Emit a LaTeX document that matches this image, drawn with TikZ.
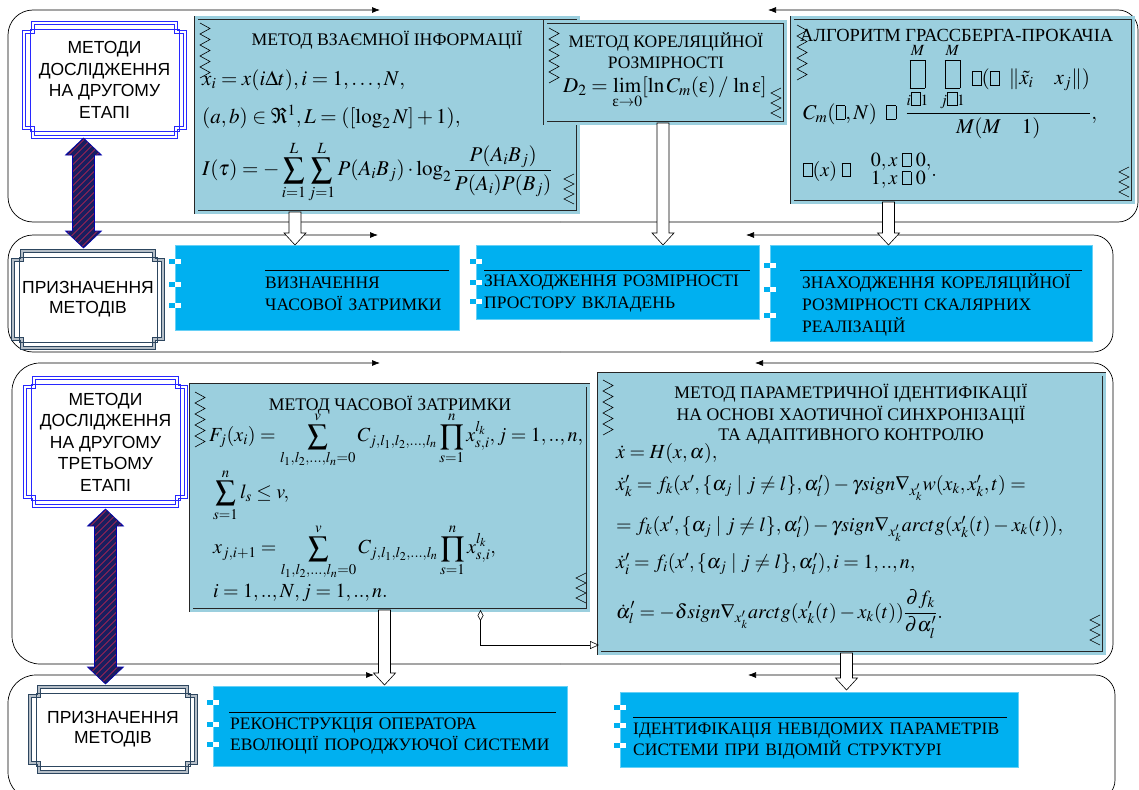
\documentclass[tikz,border=0pt]{standalone}
\usepackage{mathptmx}
\usepackage{amsmath}
\usepackage[no-math]{fontspec}
\setmainfont{Liberation Serif}
\newfontfamily\arialf{Liberation Sans}
\usetikzlibrary{arrows.meta,calc}
\definecolor{fbblue}{RGB}{155,207,222}
\definecolor{cyanb}{RGB}{0,176,240}
\definecolor{frameblue}{RGB}{40,40,255}
\definecolor{slate}{RGB}{45,70,95}
\definecolor{navyA}{RGB}{25,30,95}
\definecolor{hatchred}{RGB}{215,40,80}
\newcommand{\ueps}{\text{ε}}
\newcommand{\tofu}{\mbox{\fboxsep=0pt\fboxrule=0.5pt\fbox{\rule{0pt}{0.62em}\hspace{0.42em}}}}
\newcommand{\Tofu}{\mbox{\fboxsep=0pt\fboxrule=0.5pt\fbox{\rule[-0.15em]{0pt}{1.3em}\hspace{0.7em}}}}
\newcommand{\notchframe}[6]{%
 \draw[#6] ({#1+#5},#2) -- ({#3-#5},#2) -- ({#3-#5},{#2+#5}) -- (#3,{#2+#5}) -- (#3,{#4-#5}) -- ({#3-#5},{#4-#5}) -- ({#3-#5},#4) -- ({#1+#5},#4) -- ({#1+#5},{#4-#5}) -- (#1,{#4-#5}) -- (#1,{#2+#5}) -- ({#1+#5},{#2+#5}) -- cycle;}
\newcommand{\zzl}[3]{\draw[zig] (#1,#2) \foreach \k in {1,...,#3}{ -- ({#1+10},{#2+11*\k-5.5}) -- (#1,{#2+11*\k}) };}
\newcommand{\zzr}[3]{\draw[zig] (#1,#2) \foreach \k in {1,...,#3}{ -- ({#1-10},{#2+10*\k-5}) -- (#1,{#2+10*\k}) };}
\newcommand{\chk}[2]{\fill[cyanb] ({#1-6},#2) rectangle (#1,{#2+5}); \fill[white] (#1,#2) rectangle ({#1+6},{#2+5}); \fill[white] ({#1-6},{#2+5}) rectangle (#1,{#2+10});}
\newcommand{\hollowdown}[2]{\draw[hollow] let \p1=#1, \p2=#2 in (\x1-6pt,\y1) -- (\x1+6pt,\y1) -- (\x1+6pt,\y2+12pt) -- (\x1+11pt,\y2+12pt) -- (\x1,\y2) -- (\x1-11pt,\y2+12pt) -- (\x1-6pt,\y2+12pt) -- cycle;}
\newcommand{\dblpath}{(tmpT) -- ([shift={(18,17)}]tmpT) -- ([shift={(11,17)}]tmpT) -- ([shift={(11,-17)}]tmpB) -- ([shift={(18,-17)}]tmpB) -- (tmpB) -- ([shift={(-18,-17)}]tmpB) -- ([shift={(-11,-17)}]tmpB) -- ([shift={(-11,17)}]tmpT) -- ([shift={(-18,17)}]tmpT) -- cycle}
\newcommand{\dblarrow}[2]{%
 \path let \p1=#1, \p2=#2 in coordinate (tmpT) at (\x1,\y1) coordinate (tmpB) at (\x1,\y2);
 \fill[navyA] \dblpath;
 \begin{scope}
  \clip \dblpath;
  \foreach \d in {-40,-33,...,240} {\draw[hatchred, line width=0.6pt] ([shift={(\d+20,-20)}]tmpT) -- ([shift={(\d-200,200)}]tmpT);}
 \end{scope}
 \draw[draw=blue!70!black, line width=0.6pt] \dblpath;}
\tikzset{
 band/.style={line width=0.7pt, -{Latex[length=8pt,width=6pt]}},
 fbx/.style={draw=black!85, double=fbblue, double distance=3pt, line width=0.7pt, fill=fbblue, inner sep=0pt, outer sep=0pt, anchor=north west},
 cbx/.style={fill=cyanb, draw=cyanb!60!white, line width=0.5pt, inner sep=0pt, outer sep=0pt, anchor=north west},
 ttl/.style={font=\fontsize{17.7}{22}\selectfont, align=center, inner sep=0pt},
 ctext/.style={font=\fontsize{17.5}{22}\selectfont, align=left, anchor=west, inner sep=0pt},
 ltext/.style={font=\arialf\fontsize{17.5}{21.5}\selectfont, align=center, inner sep=0pt, outer sep=0pt, anchor=north west},
 fml/.style={anchor=west, inner sep=0pt, font=\fontsize{20}{24}\selectfont},
 zig/.style={line width=0.6pt},
 ovl/.style={line width=0.6pt},
 hollow/.style={draw=black, fill=white, line width=0.6pt},
 bluefr/.style={draw=frameblue, line width=0.8pt, double=white, double distance=1.8pt},
 slatefr/.style={draw=slate, line width=0.9pt, double=slate!35, double distance=2pt},
 conn/.style={line width=0.6pt, {Diamond[open,length=11pt,width=6pt]}-{Triangle[open,length=9pt,width=8pt]}}
}
\begin{document}
\begin{tikzpicture}[x=1pt,y=-1pt]
\useasboundingbox (0,0) rectangle (1139,789);
% bands
\draw[band, rounded corners=25pt] (560,222) -- (8,222) -- (8,10) -- (380,10);
\draw[band, rounded corners=20pt] (560,222) -- (1138,222) -- (1138,10) -- (768,10);
\draw[band, rounded corners=25pt] (560,352) -- (8,352) -- (8,235) -- (378,235);
\draw[band, rounded corners=20pt] (560,352) -- (1113,352) -- (1113,235) -- (746,235);
\draw[band, rounded corners=28pt] (560,664) -- (12,664) -- (12,363) -- (380,363);
\draw[band, rounded corners=20pt] (560,664) -- (1113,664) -- (1113,363) -- (755,363);
\draw[band, rounded corners=28pt] (560,800) -- (8,800) -- (8,675) -- (374,675);
\draw[band, rounded corners=20pt] (560,800) -- (1115,800) -- (1115,675) -- (748,675);
% formula boxes
\node[fbx, minimum width=382pt, minimum height=194pt] (fb1) at (196,18) {};
\node[fbx, minimum width=240pt, minimum height=101pt] (fb2) at (545,22) {};
\node[fbx, minimum width=341pt, minimum height=184pt] (fb3) at (792,18) {};
\node[fbx, minimum width=397pt, minimum height=225pt] (fb4) at (191,385) {};
\node[fbx, minimum width=505pt, minimum height=279pt] (fb5) at (599,374) {};
\zzl{200}{23}{5} \zzr{574}{174}{3}
\zzl{549}{28}{5} \zzr{781}{88}{3}
\zzl{797}{25}{5} \zzr{1129}{167}{3}
\zzl{195}{392}{5} \zzr{586}{573}{3}
\zzl{603}{380}{5} \zzr{1100}{615}{3}
% box 1
\node[ttl] (h1) at (387,40) {МЕТОД ВЗАЄМНОЇ ІНФОРМАЦІЇ};
\node[fml, font=\fontsize{21}{24}\selectfont] (f1a) at (202,80) {$x_i = x(i\Delta t), i = 1,\ldots,N,$};
\node[fml, font=\fontsize{21}{24}\selectfont] (f1b) at (202,117) {$(a,b)\in\Re^1, L = ([\log_2 N]+1),$};
\node[fml, font=\fontsize{21}{24}\selectfont] (f1c) at (202,172) {$\displaystyle I(\tau) = -\sum_{i=1}^{L}\sum_{j=1}^{L} P(A_iB_j)\cdot\log_2\frac{P(A_iB_j)}{P(A_i)P(B_j)}$};
% box 2
\node[ttl, font=\fontsize{17.5}{21}\selectfont] (h2a) at (666,42) {МЕТОД КОРЕЛЯЦІЙНОЇ};
\node[ttl, font=\fontsize{17.5}{21}\selectfont] (h2b) at (666,63) {РОЗМІРНОСТІ};
\node[fml, font=\fontsize{21}{24}\selectfont] (f2) at (563,93) {$\displaystyle D_2 = \lim_{\ueps\to0}[\ln C_m(\ueps)\,/\,\ln\ueps]$};
% box 3
\node[ttl, anchor=west, font=\fontsize{18.5}{22}\selectfont] (h3) at (800,35) {АЛГОРИТМ ГРАССБЕРГА-ПРОКАЧІА};
\node[fml, anchor=base west, font=\fontsize{21}{24}\selectfont] (f3a) at (803,119) {$\displaystyle C_m(\tofu,N)\;\;\tofu\;\;\frac{\mathop{\Tofu}\limits_{i\tofu 1}^{M}\;\;\mathop{\Tofu}\limits_{j\tofu 1}^{M}\;\tofu(\tofu\;\;\|\tilde{x_i}\quad x_j\|)}{M(M\quad 1)},$};
\node[fml, anchor=base west, font=\fontsize{20}{22}\selectfont] (f3b) at (803,176) {\renewcommand\arraystretch{0.75}$\tofu(x)\;\tofu\quad\begin{array}{@{}l@{}}0, x\;\tofu\; 0,\\ 1, x\;\tofu\; 0\end{array}.$};
% box 4
\node[ttl] (h4) at (390,405) {МЕТОД ЧАСОВОЇ ЗАТРИМКИ};
\node[fml] (f4a) at (209,440) {$\displaystyle F_j(x_i) = \sum_{l_1,l_2,\ldots,l_n=0}^{v} C_{j,l_1,l_2,\ldots,l_n}\prod_{s=1}^{n} x_{s,i}^{l_k}, j=1,..,n,$};
\node[fml] (f4b) at (213,495) {$\displaystyle\sum_{s=1}^{n} l_s \le v,$};
\node[fml] (f4c) at (213,552) {$\displaystyle x_{j,i+1} = \sum_{l_1,l_2,\ldots,l_n=0}^{v} C_{j,l_1,l_2,\ldots,l_n}\prod_{s=1}^{n} x_{s,i}^{l_k},$};
\node[fml] (f4d) at (213,593) {$i=1,..,N, j=1,..,n.$};
% box 5
\node[ttl] (h5a) at (851,393) {МЕТОД ПАРАМЕТРИЧНОЇ ІДЕНТИФІКАЦІЇ};
\node[ttl] (h5b) at (851,415) {НА ОСНОВІ ХАОТИЧНОЇ СИНХРОНІЗАЦІЇ};
\node[ttl] (h5c) at (851,437) {ТА АДАПТИВНОГО КОНТРОЛЮ};
\node[fml] (f5a) at (616,453) {$\dot x = H(x,\alpha),$};
\node[fml] (f5b) at (616,488) {$\dot x'_k = f_k(x',\{\alpha_j \mid j\ne l\},\alpha'_l) - \gamma sign\nabla_{x'_k} w(x_k,x'_k,t) =$};
\node[fml] (f5c) at (616,529) {$= f_k(x',\{\alpha_j \mid j\ne l\},\alpha'_l) - \gamma sign\nabla_{x'_k} arctg(x'_k(t)-x_k(t)),$};
\node[fml] (f5d) at (616,564) {$\dot x'_i = f_i(x',\{\alpha_j \mid j\ne l\},\alpha'_l), i=1,..,n,$};
\node[fml] (f5e) at (616,614) {$\displaystyle \dot\alpha'_l = -\delta sign\nabla_{x'_k} arctg(x'_k(t)-x_k(t))\frac{\partial f_k}{\partial\alpha'_l}.$};
% cyan boxes
\node[cbx, minimum width=284pt, minimum height=85pt] (c1) at (175,245) {};
\node[cbx, minimum width=283pt, minimum height=74pt] (c2) at (476,245) {};
\node[cbx, minimum width=322pt, minimum height=96pt] (c3) at (770,245) {};
\node[cbx, minimum width=354pt, minimum height=80pt] (c4) at (213,686) {};
\node[cbx, minimum width=398pt, minimum height=75pt] (c5) at (620,692) {};
\chk{175}{259} \chk{175}{282} \chk{175}{303}
\chk{476}{259} \chk{476}{280} \chk{476}{299}
\chk{770}{263} \chk{770}{287} \chk{770}{313}
\chk{213}{700} \chk{213}{722} \chk{213}{742}
\chk{620}{705} \chk{620}{723} \chk{620}{743}
\draw[ovl] (265,270) -- (449,270);
\draw[ovl] (484,270) -- (750,270);
\draw[ovl] (800,270) -- (1082,270);
\draw[ovl] (229,712) -- (556,712);
\draw[ovl] (633,717) -- (1007,717);
\node[ctext, text width=185pt] (t1) at (265,294) {ВИЗНАЧЕННЯ\\ЧАСОВОЇ ЗАТРИМКИ};
\node[ctext, text width=270pt] (t2) at (484,294) {ЗНАХОДЖЕННЯ РОЗМІРНОСТІ\\ПРОСТОРУ ВКЛАДЕНЬ};
\node[ctext, text width=285pt] (t3) at (802,305) {ЗНАХОДЖЕННЯ КОРЕЛЯЦІЙНОЇ\\РОЗМІРНОСТІ СКАЛЯРНИХ\\РЕАЛІЗАЦІЙ};
\node[ctext, text width=330pt, font=\fontsize{17.5}{21}\selectfont] (t4) at (230,736) {РЕКОНСТРУКЦІЯ ОПЕРАТОРА\\ЕВОЛЮЦІЇ ПОРОДЖУЮЧОЇ СИСТЕМИ};
\node[ctext, text width=380pt, font=\fontsize{17.5}{21}\selectfont] (t5) at (633,741) {ІДЕНТИФІКАЦІЯ НЕВІДОМИХ ПАРАМЕТРІВ\\СИСТЕМИ ПРИ ВІДОМІЙ СТРУКТУРІ};
% left boxes
\notchframe{24}{23}{185}{137}{9}{bluefr}
\draw[frameblue, line width=0.6pt] (30,29) rectangle (179,131);
\node[ltext, minimum width=161pt, minimum height=114pt] (lA) at (24,23) {МЕТОДИ\\ДОСЛІДЖЕННЯ\\НА ДРУГОМУ\\ЕТАПІ};
\notchframe{13}{251}{163}{348}{9}{slatefr}
\draw[slate, line width=0.6pt] (19,257) rectangle (157,342);
\node[ltext, minimum width=150pt, minimum height=97pt, font=\arialf\fontsize{17.5}{20}\selectfont] (lB) at (13,251) {ПРИЗНАЧЕННЯ\\МЕТОДІВ};
\notchframe{25}{378}{186}{506}{9}{bluefr}
\draw[frameblue, line width=0.6pt] (31,384) rectangle (180,500);
\node[ltext, minimum width=161pt, minimum height=128pt] (lC) at (25,378) {МЕТОДИ\\ДОСЛІДЖЕННЯ\\НА ДРУГОМУ\\ТРЕТЬОМУ\\ЕТАПІ};
\notchframe{30}{687}{196}{772}{9}{slatefr}
\draw[slate, line width=0.6pt] (36,693) rectangle (190,766);
\node[ltext, minimum width=166pt, minimum height=85pt, font=\arialf\fontsize{17.5}{20}\selectfont] (lD) at (30,687) {ПРИЗНАЧЕННЯ\\МЕТОДІВ};
% double arrows
\dblarrow{([xshift=-21pt,yshift=-1pt]lA.south)}{([yshift=3pt]lB.north)}
\dblarrow{([yshift=-3pt]lC.south)}{([yshift=3pt]lD.north)}
% hollow arrows
\hollowdown{([xshift=-92pt]fb1.south)}{(c1.north)}
\hollowdown{([xshift=-2pt]fb2.south)}{(c2.north)}
\hollowdown{([xshift=-74pt]fb3.south)}{(c3.north)}
\hollowdown{([xshift=-5pt]fb4.south)}{([yshift=1pt]c4.north)}
\hollowdown{([xshift=-5pt]fb5.south)}{([yshift=2pt]c5.north)}
% diamond connector
\draw[conn] ([xshift=91pt]fb4.south) |- ([yshift=8pt]fb5.south west);
\end{tikzpicture}
\end{document}
